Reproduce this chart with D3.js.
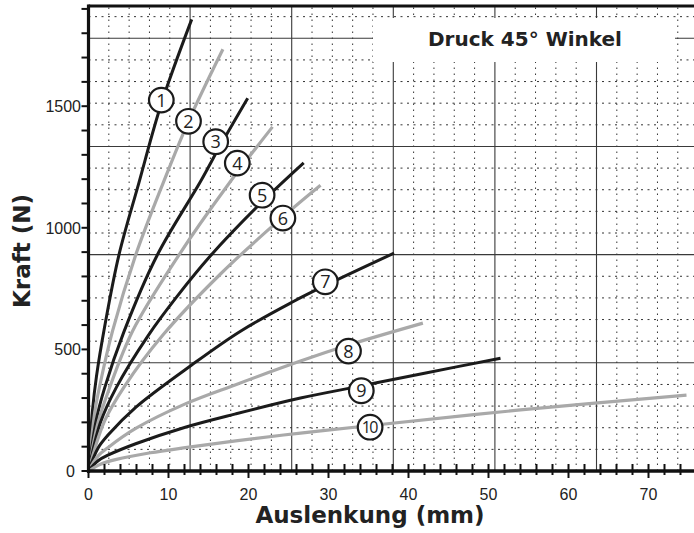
<!DOCTYPE html>
<html>
<head>
<meta charset="utf-8">
<script src="https://cdn.jsdelivr.net/npm/d3@7"></script>
<style>
  html, body { margin: 0; padding: 0; background: #fff; }
  svg { display: block; }
</style>
</head>
<body>
<svg id="chart" width="694" height="533"></svg>
<script>
// ---- data ----
const xTickLabels = [0, 10, 20, 30, 40, 50, 60, 70];
const yTickLabels = [0, 500, 1000, 1500];

const curve1X = [0, 0.5, 1, 2, 3.8, 6.3, 9.1, 12.9];
const curve1Y = [0, 250, 390, 590, 888, 1185, 1510, 1857];
const curve2X = [0, 0.8, 1.5, 3, 5.9, 9.4, 12.5, 16.8];
const curve2Y = [0, 245, 365, 575, 888, 1190, 1438, 1734];
const curve3X = [0, 1, 2, 4.4, 8.6, 14, 16.5, 19.9];
const curve3Y = [0, 215, 340, 570, 888, 1190, 1340, 1533];
const curve4X = [0, 1.2, 2.5, 5.5, 11.3, 17.4, 23];
const curve4Y = [0, 200, 330, 575, 888, 1175, 1415];
const curve5X = [0, 1.5, 3.5, 7.5, 11, 15.25, 21.5, 26.9];
const curve5Y = [0, 200, 345, 559, 715, 885, 1100, 1267];
const curve6X = [0, 2, 4.5, 9.3, 16.5, 24.3, 29];
const curve6Y = [0, 205, 348, 559, 810, 1045, 1175];
const curve7X = [0, 1.2, 2.5, 5.9, 12.9, 19, 25.5, 29.6, 38.2];
const curve7Y = [0, 95, 150, 262, 436, 575, 695, 763, 896];
const curve8X = [0, 1.2, 2.5, 5.9, 12.1, 18.4, 26.5, 32.5, 41.8];
const curve8Y = [0, 62, 98, 175, 276, 355, 452, 518, 608];
const curve9X = [0, 1.2, 2.5, 5.9, 12.1, 18.4, 26.5, 34.1, 42, 51.5];
const curve9Y = [0, 42, 66, 112, 180, 235, 300, 350, 402, 464];
const curve10X = [0, 1.5, 3.5, 7.75, 12.1, 18.4, 26.5, 35, 54, 74.75];
const curve10Y = [0, 28, 48, 75, 96, 124, 156, 186, 251, 312];

const curveNames = ["1", "2", "3", "4", "5", "6", "7", "8", "9", "10"];
const labelX = [9.1, 12.5, 15.9, 18.6, 21.7, 24.3, 29.6, 32.5, 34.1, 35.2];
const labelY = [1525, 1438, 1354, 1266, 1134, 1040, 778, 493, 330, 180];

const titleText = "Druck 45° Winkel";
const xTitle = "Auslenkung (mm)";
const yTitle = "Kraft (N)";

// ---- setup ----
const svg = d3.select("#chart");
const xMax = 76, yMax = 1912;
const x = d3.scaleLinear().domain([0, xMax]).range([88.5, 88.5 + 8 * xMax]);
const y = d3.scaleLinear().domain([0, yMax]).range([471, 6]);

const curvesX = [curve1X, curve2X, curve3X, curve4X, curve5X, curve6X, curve7X, curve8X, curve9X, curve10X];
const curvesY = [curve1Y, curve2Y, curve3Y, curve4Y, curve5Y, curve6Y, curve7Y, curve8Y, curve9Y, curve10Y];

// ---- background grid (0.1 in / 20 lbf paper grid) ----
const gMinorX = 2.54, gMinorY = 88.964;
const grid = svg.append("g");
d3.range(1, 40).forEach(k => {
  const v = k * gMinorX;
  if (v > xMax) return;
  const solid = k % 5 === 0;
  grid.append("line")
    .attr("x1", x(v)).attr("x2", x(v)).attr("y1", y(0)).attr("y2", y(yMax))
    .attr("stroke", solid ? "#3a3a3a" : "#333")
    .attr("stroke-width", solid ? 1.1 : 1)
    .attr("stroke-dasharray", solid ? null : "1.5,4.5");
});
d3.range(1, 30).forEach(k => {
  const v = k * gMinorY;
  if (v > yMax) return;
  const solid = k % 5 === 0;
  grid.append("line")
    .attr("x1", x(0)).attr("x2", x(xMax)).attr("y1", y(v)).attr("y2", y(v))
    .attr("stroke", solid ? "#3a3a3a" : "#333")
    .attr("stroke-width", solid ? 1.1 : 1)
    .attr("stroke-dasharray", solid ? null : "2,4.5");
});

// title box
svg.append("rect").attr("x", 373).attr("y", 18).attr("width", 302).attr("height", 44).attr("fill", "#fff");
svg.append("text").attr("x", 525).attr("y", 46).attr("text-anchor", "middle")
  .attr("font-family", "DejaVu Sans").attr("font-weight", "bold").attr("font-size", 20)
  .attr("fill", "#222").text(titleText);

// ---- curves ----
const line = d3.line().x(d => x(d[0])).y(d => y(d[1])).curve(d3.curveCatmullRom.alpha(0.5));
curvesX.forEach((xs, i) => {
  const pts = xs.map((v, j) => [v, curvesY[i][j]]);
  svg.append("path").attr("d", line(pts))
    .attr("fill", "none")
    .attr("stroke", i % 2 === 0 ? "#1b1b1b" : "#a9a9a9")
    .attr("stroke-width", i % 2 === 0 ? 3 : 3.2);
});

// ---- axes ----
const axes = svg.append("g");
axes.append("line").attr("x1", x(0)).attr("x2", 700).attr("y1", y(yMax)).attr("y2", y(yMax))
  .attr("stroke", "#111").attr("stroke-width", 3);
axes.append("line").attr("x1", x(0)).attr("x2", x(0)).attr("y1", y(yMax) - 1.5).attr("y2", y(0) + 2)
  .attr("stroke", "#111").attr("stroke-width", 3.2);
axes.append("line").attr("x1", x(0) - 1.5).attr("x2", 700).attr("y1", y(0)).attr("y2", y(0))
  .attr("stroke", "#111").attr("stroke-width", 3.5);

// x ticks (every 2 mm, long ones every 10 mm)
d3.range(0, xMax + 0.01, 2).forEach(v => {
  const major = v % 10 === 0;
  axes.append("line").attr("x1", x(v)).attr("x2", x(v))
    .attr("y1", y(0) - 7).attr("y2", y(0) + (major ? 7 : 4))
    .attr("stroke", "#111").attr("stroke-width", 2);
});
xTickLabels.forEach(v => {
  axes.append("text").attr("x", x(v)).attr("y", 500).attr("text-anchor", "middle")
    .attr("font-family", "Liberation Sans").attr("font-size", 16).attr("fill", "#222").text(v);
});
// y ticks every 100 N
d3.range(0, yMax, 100).forEach(v => {
  axes.append("line").attr("x1", x(0) - 7).attr("x2", x(0))
    .attr("y1", y(v)).attr("y2", y(v)).attr("stroke", "#111").attr("stroke-width", 2);
});
yTickLabels.forEach(v => {
  axes.append("text").attr("x", v === 0 ? 75 : 81).attr("y", y(v)).attr("dy", "0.36em")
    .attr("text-anchor", "end")
    .attr("font-family", "Liberation Sans").attr("font-size", 16).attr("fill", "#222").text(v);
});

// axis titles
svg.append("text").attr("x", 370).attr("y", 523).attr("text-anchor", "middle")
  .attr("font-family", "DejaVu Sans").attr("font-weight", "bold").attr("font-size", 23)
  .attr("fill", "#222").text(xTitle);
svg.append("text").attr("transform", "translate(30,251) rotate(-90)").attr("text-anchor", "middle")
  .attr("font-family", "DejaVu Sans").attr("font-weight", "bold").attr("font-size", 23)
  .attr("fill", "#222").text(yTitle);

// ---- curve labels ----
curveNames.forEach((n, i) => {
  const g = svg.append("g").attr("transform", `translate(${x(labelX[i])},${y(labelY[i])})`);
  g.append("circle").attr("r", 12.3).attr("fill", "#fff").attr("stroke", "#1b1b1b").attr("stroke-width", 2.2);
  g.append("text").attr("text-anchor", "middle").attr("dy", "0.36em")
    .attr("font-family", "Open Sans").attr("font-size", n.length > 1 ? 16 : 18)
    .attr("letter-spacing", n.length > 1 ? -1.5 : 0)
    .attr("dx", n.length > 1 ? -0.8 : 0)
    .attr("fill", "#222").text(n);
});
</script>
</body>
</html>
